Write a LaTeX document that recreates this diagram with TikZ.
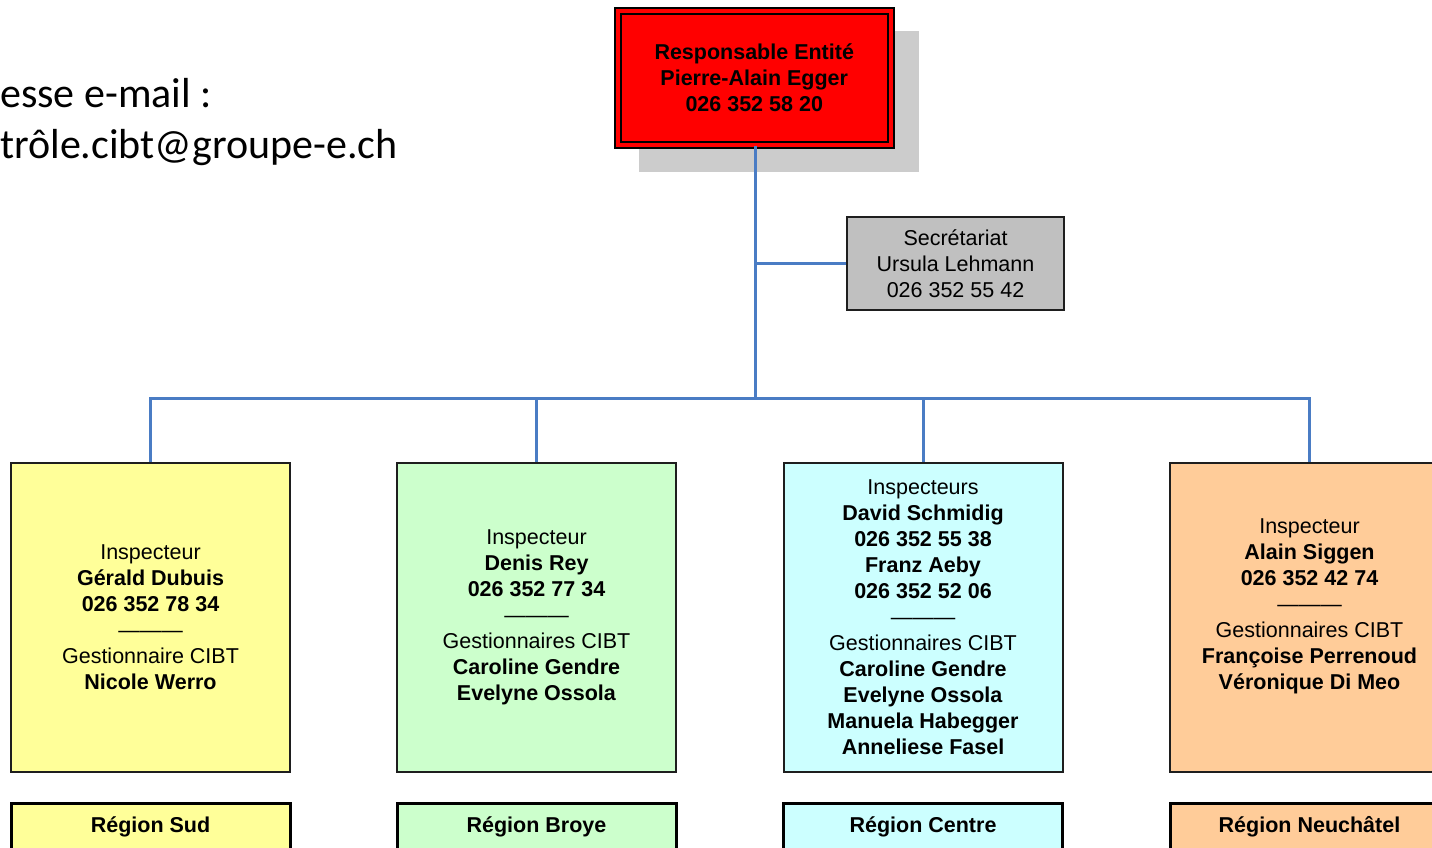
\documentclass[tikz,border=0pt]{standalone}
\usepackage{fontspec}
\setmainfont{Liberation Sans}
\newfontfamily\carlito{Carlito}
\definecolor{shadowgray}{HTML}{CCCCCC}
\definecolor{secgray}{HTML}{C0C0C0}
\definecolor{yel}{HTML}{FFFF99}
\definecolor{grn}{HTML}{CCFFCC}
\definecolor{cyn}{HTML}{CCFFFF}
\definecolor{org}{HTML}{FFCC99}
\definecolor{linkblue}{HTML}{4A7CC4}
\definecolor{boxline}{HTML}{1E1E1E}
\begin{document}
\begin{tikzpicture}[x=1pt,y=-1pt,
  txt/.style={font=\fontsize{21.5}{26}\selectfont, align=center, inner sep=0pt},
  box/.style={txt, draw=boxline, line width=2pt, minimum width=279pt, minimum height=309pt},
  region/.style={txt, font=\fontsize{21.5}{26}\selectfont\bfseries, draw=black, line width=3pt, minimum width=279pt, minimum height=47pt},
  link/.style={draw=linkblue, line width=3pt},
  mail/.style={font=\carlito\fontsize{42}{50}\selectfont, anchor=base west, inner sep=0pt}]
\useasboundingbox (0,0) rectangle (1432,847);
\clip (0,0) rectangle (1432,847);

% e-mail text
\node[mail] (mail1) at (0,107) {esse e-mail :};
\node[mail] (mail2) at (0,158) {trôle.cibt@groupe-e.ch};

% top box with shadow
\fill[shadowgray] (639,31) rectangle (919,172);
\node[txt, font=\fontsize{21.5}{26}\selectfont\bfseries, fill=red, draw=black, line width=2pt,
      double=red, double distance=4pt, minimum width=273.5pt, minimum height=134pt]
  (top) at (754.25,77.5) {Responsable Entité\\Pierre-Alain Egger\\026 352 58 20};

% secretariat
\node[txt, fill=secgray, draw=boxline, line width=2pt, minimum width=217pt, minimum height=93pt]
  (sec) at (955.5,263.5) {Secrétariat\\Ursula Lehmann\\026 352 55 42};

% inspector boxes
\node[box, fill=yel] (b1) at (150.5,617.5)
  {Inspecteur\\\textbf{Gérald Dubuis}\\\textbf{026 352 78 34}\\———\\Gestionnaire CIBT\\\textbf{Nicole Werro}};
\node[box, fill=grn] (b2) at (536.5,617.5)
  {Inspecteur\\\textbf{Denis Rey}\\\textbf{026 352 77 34}\\———\\Gestionnaires CIBT\\\textbf{Caroline Gendre}\\\textbf{Evelyne Ossola}};
\node[box, fill=cyn] (b3) at (923,617.5)
  {Inspecteurs\\\textbf{David Schmidig}\\\textbf{026 352 55 38}\\\textbf{Franz Aeby}\\\textbf{026 352 52 06}\\———\\Gestionnaires CIBT\\\textbf{Caroline Gendre}\\\textbf{Evelyne Ossola}\\\textbf{Manuela Habegger}\\\textbf{Anneliese Fasel}};
\node[box, fill=org] (b4) at (1309.5,617.5)
  {Inspecteur\\\textbf{Alain Siggen}\\\textbf{026 352 42 74}\\———\\Gestionnaires CIBT\\\textbf{Françoise Perrenoud}\\\textbf{Véronique Di Meo}\\\mbox{}};

% region boxes
\node[region, fill=yel] (r1) at (150.5,826.5) {Région Sud};
\node[region, fill=grn] (r2) at (536.5,826.5) {Région Broye};
\node[region, fill=cyn] (r3) at (923,826.5) {Région Centre};
\node[region, fill=org] (r4) at (1309.5,826.5) {Région Neuchâtel};

% connectors
\coordinate (bus) at (755,398);
\draw[link] (top.south -| bus) -- (bus);
\draw[link] (sec.west) -- (sec.west -| bus);
\draw[link] (b1.north) |- (b4.north |- bus) -- (b4.north);
\draw[link] (b2.north) -- (b2.north |- bus);
\draw[link] (b3.north) -- (b3.north |- bus);
\end{tikzpicture}
\end{document}
